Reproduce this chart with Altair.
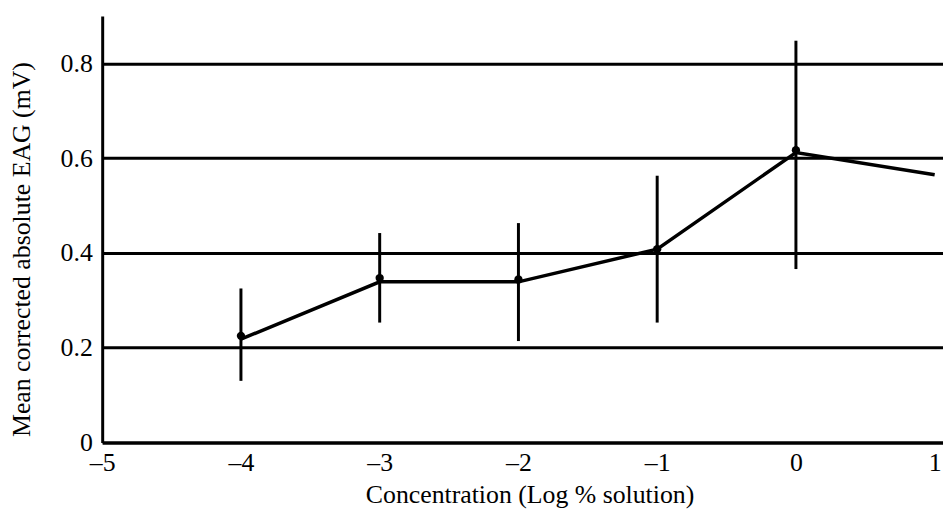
import altair as alt
import pandas as pd

# Data
conc = [-4, -3, -2, -1, 0, 1]
line_eag = [0.218, 0.339, 0.339, 0.408, 0.612, 0.565]
point_conc = [-4, -3, -2, -1, 0]
point_eag = [0.225, 0.347, 0.344, 0.408, 0.617]
err_low = [0.13, 0.253, 0.214, 0.253, 0.366]
err_high = [0.325, 0.442, 0.463, 0.563, 0.848]
y_ticks = [0, 0.2, 0.4, 0.6, 0.8]
x_ticks = [-5, -4, -3, -2, -1, 0, 1]

line_df = pd.DataFrame({"conc": conc, "eag": line_eag})
pt_df = pd.DataFrame({"conc": point_conc, "eag": point_eag, "lo": err_low, "hi": err_high})

FONT = "Liberation Serif"
xscale = alt.Scale(domain=[-5, 1.06], nice=False, zero=False)
yscale = alt.Scale(domain=[0, 0.9], nice=False, zero=True)

x_axis = alt.Axis(
    values=x_ticks, ticks=False, grid=False,
    domainColor="black", domainWidth=3,
    labelFont=FONT, labelFontSize=26, labelColor="black", labelPadding=7,
    labelFlush=False, labelOverlap=False, labelBound=False,
    labelExpr="datum.value < 0 ? '\u2013' + abs(datum.value) : '' + datum.value",
    titleFont=FONT, titleFontSize=26, titleFontWeight="normal", titleColor="black",
    titlePadding=7, titleX=431,
)
y_axis = alt.Axis(
    values=y_ticks, ticks=False, grid=True,
    gridColor="black", gridWidth=3, gridOpacity=1,
    domainColor="black", domainWidth=3,
    labelFont=FONT, labelFontSize=26, labelColor="black", labelPadding=10,
    labelExpr="datum.value == 0 ? '0' : format(datum.value, '.1f')",
    titleFont=FONT, titleFontSize=26, titleFontWeight="normal", titleColor="black",
    titleX=-73, titleY=235, titleAlign="center", titleBaseline="alphabetic",
)
X_TITLE = "Concentration (Log % solution)"
Y_TITLE = "Mean corrected absolute EAG (mV)"

line = alt.Chart(line_df).mark_line(color="black", strokeWidth=3.5).encode(
    x=alt.X("conc:Q", scale=xscale, axis=x_axis, title=X_TITLE),
    y=alt.Y("eag:Q", scale=yscale, axis=y_axis, title=Y_TITLE),
)

err = alt.Chart(pt_df).mark_rule(color="black", strokeWidth=3).encode(
    x=alt.X("conc:Q", scale=xscale, axis=x_axis, title=X_TITLE),
    y=alt.Y("lo:Q", scale=yscale, axis=y_axis, title=Y_TITLE),
    y2="hi:Q",
)

pts = alt.Chart(pt_df).mark_circle(color="black", size=70, opacity=1).encode(
    x=alt.X("conc:Q", scale=xscale, axis=x_axis, title=X_TITLE),
    y=alt.Y("eag:Q", scale=yscale, axis=y_axis, title=Y_TITLE),
)

chart = (
    alt.layer(line, err, pts)
    .properties(
        width=848, height=430,
        autosize=alt.AutoSizeParams(type="none"),
        padding={"left": 95, "top": 6, "right": 0, "bottom": 66},
        background="white",
    )
    .configure_view(stroke=None)
)

chart.save("out.html", embed_options={"renderer": "svg", "actions": False})
